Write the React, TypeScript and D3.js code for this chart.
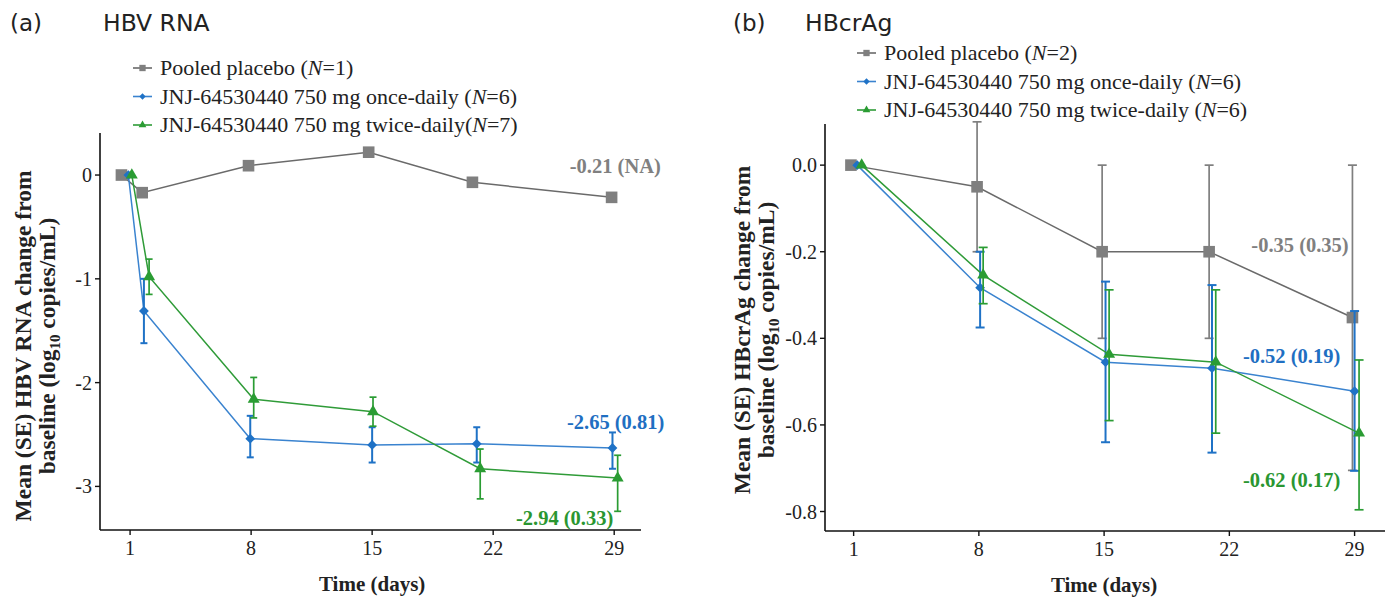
import React from 'react';
import * as d3 from 'd3';

// ---------- data ----------
const tickDays = [1, 8, 15, 22, 29];
const rnaTicks = [0, -1, -2, -3];
const crTicks = [0, -0.2, -0.4, -0.6, -0.8];

// HBV RNA (panel a)
const rnaPlaceboDay = [0.5, 1.7, 7.85, 14.8, 20.8, 28.85];
const rnaPlaceboMean = [0, -0.17, 0.09, 0.22, -0.07, -0.215];

const rnaQdDay = [0.9, 1.8, 7.95, 15.0, 21.05, 28.9];
const rnaQdMean = [0, -1.31, -2.54, -2.6, -2.59, -2.63];
const rnaQdLo = [0, -1.62, -2.72, -2.77, -2.77, -2.83];
const rnaQdHi = [0, -1.0, -2.32, -2.43, -2.43, -2.48];

const rnaBidDay = [1.1, 2.1, 8.15, 15.05, 21.25, 29.2];
const rnaBidMean = [0, -0.98, -2.16, -2.28, -2.83, -2.92];
const rnaBidLo = [0, -1.15, -2.34, -2.42, -3.12, -3.24];
const rnaBidHi = [0, -0.81, -1.95, -2.14, -2.64, -2.7];

// HBcrAg (panel b)
const crPlaceboDay = [0.85, 7.9, 14.89, 20.87, 28.88];
const crPlaceboMean = [0, -0.05, -0.2, -0.2, -0.352];
const crPlaceboLo = [0, -0.2, -0.4, -0.4, -0.705];
const crPlaceboHi = [0, 0.1, 0.0, 0.0, 0.0];

const crQdDay = [1.2, 8.07, 15.08, 21.03, 29.0];
const crQdMean = [0, -0.283, -0.455, -0.469, -0.522];
const crQdLo = [0, -0.375, -0.64, -0.664, -0.706];
const crQdHi = [0, -0.2, -0.269, -0.277, -0.337];

const crBidDay = [1.45, 8.24, 15.28, 21.24, 29.25];
const crBidMean = [0, -0.254, -0.437, -0.455, -0.619];
const crBidLo = [0, -0.32, -0.59, -0.619, -0.796];
const crBidHi = [0, -0.19, -0.288, -0.288, -0.45];

// end-of-study annotations: [text, day (right end), value (centre), series]
const rnaNotes: [string, number, number, string][] = [
  ['-0.21 (NA)', 31.7, 0.085, 'placebo'],
  ['-2.65 (0.81)', 31.9, -2.38, 'qd'],
  ['-2.94 (0.33)', 28.95, -3.3, 'bid'],
];
const crNotes: [string, number, number, string][] = [
  ['-0.35 (0.35)', 28.67, -0.185, 'placebo'],
  ['-0.52 (0.19)', 28.2, -0.44, 'qd'],
  ['-0.62 (0.17)', 28.2, -0.727, 'bid'],
];

// ---------- styles ----------
const SERIF = '"Liberation Serif", "Times New Roman", serif';
const SANS = '"DejaVu Sans", "Open Sans", sans-serif';

const STYLE: Record<string, any> = {
  placebo: { color: '#7f7f7f', line: '#6a6a6a', text: '#808080', shape: 'square' },
  qd: { color: '#1f72c6', line: '#3a83cf', text: '#1f6fc2', shape: 'diamond' },
  bid: { color: '#2a9c33', line: '#2f9b38', text: '#2a9631', shape: 'triangle' },
};

function symbolPath(shape: string, big: boolean) {
  if (shape === 'square') return d3.symbol().type(d3.symbolSquare).size(big ? 135 : 40)()!;
  if (shape === 'diamond') return d3.symbol().type(d3.symbolSquare).size(big ? 48 : 20)()!;
  return d3.symbol().type(d3.symbolTriangle).size(big ? 62 : 26)()!;
}

type Series = { key: string; day: number[]; mean: number[]; lo?: number[]; hi?: number[] };

function Panel(props: any) {
  const { left, right, top, bottom, xDomain, yDomain, yTicks, fmt, series, notes,
    tag, tagX, title, titleX, legend, legendX, legendY, yTitle1, yTitle2, yTitleX, yTitleMid, capHalf } = props;
  const x = d3.scaleLinear().domain(xDomain).range([left, right]);
  const y = d3.scaleLinear().domain(yDomain).range([bottom, top]);
  const midX = x((tickDays[0] + tickDays[tickDays.length - 1]) / 2);

  return (
    <g>
      <text x={tagX} y={31} fontFamily={SANS} fontSize={23} fill="#222">{tag}</text>
      <text x={titleX} y={31} fontFamily={SANS} fontSize={23.5} fill="#222">{title}</text>

      {/* legend */}
      {legend.map((it: any, i: number) => {
        const st = STYLE[it.key];
        const ly = legendY + i * 28.5;
        return (
          <g key={it.key}>
            <line x1={legendX} x2={legendX + 19} y1={ly} y2={ly} stroke={st.line} strokeWidth={1.6} />
            <path d={symbolPath(st.shape, false)}
              transform={`translate(${legendX + 9.5},${ly})${st.shape === 'diamond' ? ' rotate(45)' : ''}`}
              fill={st.color} />
            <text x={legendX + 27} y={ly + 7} fontFamily={SERIF} fontSize={22} fill="#222">
              {it.pre}<tspan fontStyle="italic">N</tspan>{it.post}
            </text>
          </g>
        );
      })}

      {/* axes */}
      <line x1={left} x2={left} y1={top} y2={bottom} stroke="#111" strokeWidth={1.6} />
      <line x1={left} x2={right} y1={bottom} y2={bottom} stroke="#111" strokeWidth={1.6} />
      {yTicks.map((t: number) => (
        <g key={t}>
          <line x1={left - 5} x2={left} y1={y(t)} y2={y(t)} stroke="#111" strokeWidth={1.4} />
          <text x={left - 8} y={y(t) + 7} textAnchor="end" fontFamily={SERIF} fontSize={20} fill="#222">{fmt(t)}</text>
        </g>
      ))}
      {tickDays.map((t) => (
        <g key={t}>
          <line x1={x(t)} x2={x(t)} y1={bottom} y2={bottom + 5} stroke="#111" strokeWidth={1.4} />
          <text x={x(t)} y={bottom + 25} textAnchor="middle" fontFamily={SERIF} fontSize={20} fill="#222">{t}</text>
        </g>
      ))}
      <text x={midX} y={bottom + 61} textAnchor="middle" fontFamily={SERIF} fontWeight="bold" fontSize={21} fill="#222">Time (days)</text>
      <text transform={`translate(${yTitleX},${yTitleMid}) rotate(-90)`} textAnchor="middle"
        fontFamily={SERIF} fontWeight="bold" fontSize={23.5} fill="#222">{yTitle1}</text>
      <text transform={`translate(${yTitleX + 24},${yTitleMid}) rotate(-90)`} textAnchor="middle"
        fontFamily={SERIF} fontWeight="bold" fontSize={23.5} fill="#222">
        {yTitle2}<tspan fontSize={15} dy={5}>10</tspan><tspan dy={-5}> copies/mL)</tspan>
      </text>

      {/* series */}
      {series.map((s: Series) => {
        const st = STYLE[s.key];
        const pts = s.day.map((d, i) => [x(d), y(s.mean[i])] as [number, number]);
        return (
          <g key={s.key}>
            <path d={d3.line()(pts)!} fill="none" stroke={st.line} strokeWidth={1.5} />
            {s.lo && s.hi && s.day.map((d, i) => (s.lo![i] === s.hi![i] ? null : (
              <g key={i} stroke={st.color} strokeWidth={s.key === 'qd' ? 2 : 1.7}>
                <line x1={x(d)} x2={x(d)} y1={y(s.lo![i])} y2={y(s.hi![i])} />
                <line x1={x(d) - capHalf} x2={x(d) + capHalf} y1={y(s.lo![i])} y2={y(s.lo![i])} />
                <line x1={x(d) - capHalf} x2={x(d) + capHalf} y1={y(s.hi![i])} y2={y(s.hi![i])} />
              </g>
            )))}
            {pts.map((p, i) => (
              <path key={i} d={symbolPath(st.shape, true)}
                transform={`translate(${p[0]},${p[1]})${st.shape === 'diamond' ? ' rotate(45)' : ''}`}
                fill={st.color} />
            ))}
          </g>
        );
      })}

      {notes.map((n: [string, number, number, string]) => (
        <text key={n[0]} x={x(n[1])} y={y(n[2]) + 7} textAnchor="end" fontFamily={SERIF}
          fontWeight="bold" fontSize={20.5} fill={STYLE[n[3]].text}>{n[0]}</text>
      ))}
    </g>
  );
}

export default function App() {
  const rnaSeries: Series[] = [
    { key: 'placebo', day: rnaPlaceboDay, mean: rnaPlaceboMean },
    { key: 'qd', day: rnaQdDay, mean: rnaQdMean, lo: rnaQdLo, hi: rnaQdHi },
    { key: 'bid', day: rnaBidDay, mean: rnaBidMean, lo: rnaBidLo, hi: rnaBidHi },
  ];
  const crSeries: Series[] = [
    { key: 'placebo', day: crPlaceboDay, mean: crPlaceboMean, lo: crPlaceboLo, hi: crPlaceboHi },
    { key: 'qd', day: crQdDay, mean: crQdMean, lo: crQdLo, hi: crQdHi },
    { key: 'bid', day: crBidDay, mean: crBidMean, lo: crBidLo, hi: crBidHi },
  ];
  const legendA = [
    { key: 'placebo', pre: 'Pooled placebo (', post: '=1)' },
    { key: 'qd', pre: 'JNJ-64530440 750 mg once-daily (', post: '=6)' },
    { key: 'bid', pre: 'JNJ-64530440 750 mg twice-daily(', post: '=7)' },
  ];
  const legendB = [
    { key: 'placebo', pre: 'Pooled placebo (', post: '=2)' },
    { key: 'qd', pre: 'JNJ-64530440 750 mg once-daily (', post: '=6)' },
    { key: 'bid', pre: 'JNJ-64530440 750 mg twice-daily (', post: '=6)' },
  ];
  return (
    <svg width={1393} height={605} style={{ position: 'absolute', left: 0, top: 0, background: '#fff' }}>
      <rect width={1393} height={605} fill="#fff" />
      <Panel left={100} right={641} top={133} bottom={530} xDomain={[-0.74, 30.55]} yDomain={[-3.42, 0.405]}
        yTicks={rnaTicks} fmt={(v: number) => `${v}`} series={rnaSeries} notes={rnaNotes}
        tag="(a)" tagX={10} title="HBV RNA" titleX={103} legend={legendA} legendX={133} legendY={68}
        yTitle1="Mean (SE) HBV RNA change from" yTitle2="baseline (log" yTitleX={31} yTitleMid={346} capHalf={3.5} />
      <Panel left={825} right={1385} top={124} bottom={531} xDomain={[-0.6, 30.7]} yDomain={[-0.845, 0.095]}
        yTicks={crTicks} fmt={(v: number) => v.toFixed(1)} series={crSeries} notes={crNotes}
        tag="(b)" tagX={733} title="HBcrAg" titleX={805} legend={legendB} legendX={857} legendY={53}
        yTitle1="Mean (SE) HBcrAg change from" yTitle2="baseline (log" yTitleX={750} yTitleMid={330} capHalf={4.5} />
    </svg>
  );
}
